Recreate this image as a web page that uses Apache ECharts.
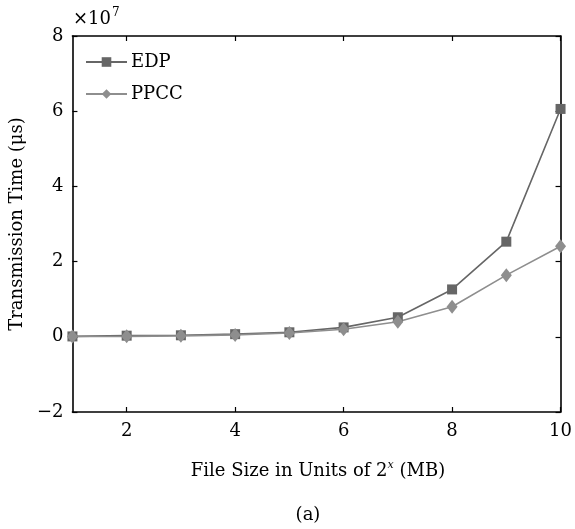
<!DOCTYPE html>
<html>
<head>
<meta charset="utf-8">
<script src="https://cdn.jsdelivr.net/npm/echarts@6/dist/echarts.min.js"></script>
<style>
  html, body { margin: 0; padding: 0; background: #fff; }
  #chart { width: 575px; height: 529px; }
</style>
</head>
<body>
<div id="chart"></div>
<script>
// file size exponent x (2^x MB)
const sizes = [1, 2, 3, 4, 5, 6, 7, 8, 9, 10]
// transmission time in microseconds
const edp = [0.01e7, 0.03e7, 0.04e7, 0.07e7, 0.12e7, 0.25e7, 0.52e7, 1.26e7, 2.53e7, 6.06e7]
const ppcc = [0.006e7, 0.012e7, 0.025e7, 0.05e7, 0.1e7, 0.2e7, 0.4e7, 0.8e7, 1.64e7, 2.41e7]
const xTicks = [2, 4, 6, 8, 10]

const font = 'DejaVu Serif'
let chart = echarts.init(document.getElementById('chart'))

const pairs = (ys) => sizes.map((x, i) => [x, ys[i]])

const frameLine = { onZero: false, lineStyle: { color: '#000', width: 1.6 } }
const frameTick = { inside: true, length: 5, lineStyle: { color: '#000', width: 1.2 } }

const options = {
  animation: false,
  textStyle: { fontFamily: font, color: '#000' },
  grid: { left: 68, right: 9, top: 36, bottom: 117 },
  legend: {
    left: 85, top: 53,
    padding: 0,
    orient: 'vertical',
    itemGap: 14,
    itemWidth: 41, itemHeight: 12,
    textStyle: { fontFamily: font, fontSize: 18, color: '#000', padding: [0, 0, 0, -1] },
    data: ['EDP', 'PPCC']
  },
  graphic: [
    {
      type: 'text', left: 73, top: 10,
      style: { text: '×10', fontFamily: font, fontSize: 18, fill: '#000' }
    },
    {
      type: 'text', left: 112, top: 7,
      style: { text: '7', fontFamily: font, fontSize: 12, fill: '#000' }
    },
    {
      type: 'text', x: 318, y: 471,
      style: {
        text: '{a|File Size in Units of 2}{b|x}{a| (MB)}',
        align: 'center', verticalAlign: 'middle',
        rich: {
          a: { fontFamily: font, fontSize: 18, fill: '#000', lineHeight: 22 },
          b: { fontFamily: font, fontSize: 11, fontStyle: 'italic', fill: '#000', verticalAlign: 'top', lineHeight: 12 }
        }
      }
    },
    {
      type: 'text', x: 308, y: 515,
      style: { text: '(a)', fontFamily: font, fontSize: 18, fill: '#000', align: 'center', verticalAlign: 'middle' }
    }
  ],
  xAxis: [
    {
      type: 'value', min: 1, max: 10,
      axisLine: frameLine,
      axisTick: Object.assign({ customValues: xTicks }, frameTick),
      axisLabel: { customValues: xTicks, fontFamily: font, fontSize: 18, color: '#000', margin: 10 },
      splitLine: { show: false }
    },
    {
      type: 'value', min: 1, max: 10, position: 'top',
      axisLine: frameLine,
      axisTick: Object.assign({ customValues: xTicks }, frameTick),
      axisLabel: { show: false },
      splitLine: { show: false }
    }
  ],
  yAxis: [
    {
      type: 'value', min: -2e7, max: 8e7, interval: 2e7,
      axisLine: Object.assign({ show: true }, frameLine),
      axisTick: Object.assign({ show: true }, frameTick),
      axisLabel: {
        fontFamily: font, fontSize: 18, color: '#000', margin: 9,
        formatter: (v) => (v < 0 ? '\u2212' + Math.abs(v / 1e7) : String(v / 1e7))
      },
      splitLine: { show: false },
      name: 'Transmission Time (\u03bcs)',
      nameLocation: 'middle',
      nameGap: 42,
      nameTextStyle: { fontFamily: font, fontSize: 18, color: '#000' }
    },
    {
      type: 'value', min: -2e7, max: 8e7, interval: 2e7, position: 'right',
      axisLine: Object.assign({ show: true }, frameLine),
      axisTick: Object.assign({ show: true }, frameTick),
      axisLabel: { show: false },
      splitLine: { show: false }
    }
  ],
  series: [
    {
      name: 'EDP', type: 'line',
      data: pairs(edp),
      symbol: 'rect', symbolSize: 10,
      lineStyle: { color: '#666666', width: 1.6 },
      itemStyle: { color: '#666666' }
    },
    {
      name: 'PPCC', type: 'line',
      data: pairs(ppcc),
      symbol: 'diamond', symbolSize: [11, 14],
      lineStyle: { color: '#8e8e8e', width: 1.6 },
      itemStyle: { color: '#8e8e8e' }
    }
  ]
}
chart.setOption(options)
</script>
</body>
</html>
